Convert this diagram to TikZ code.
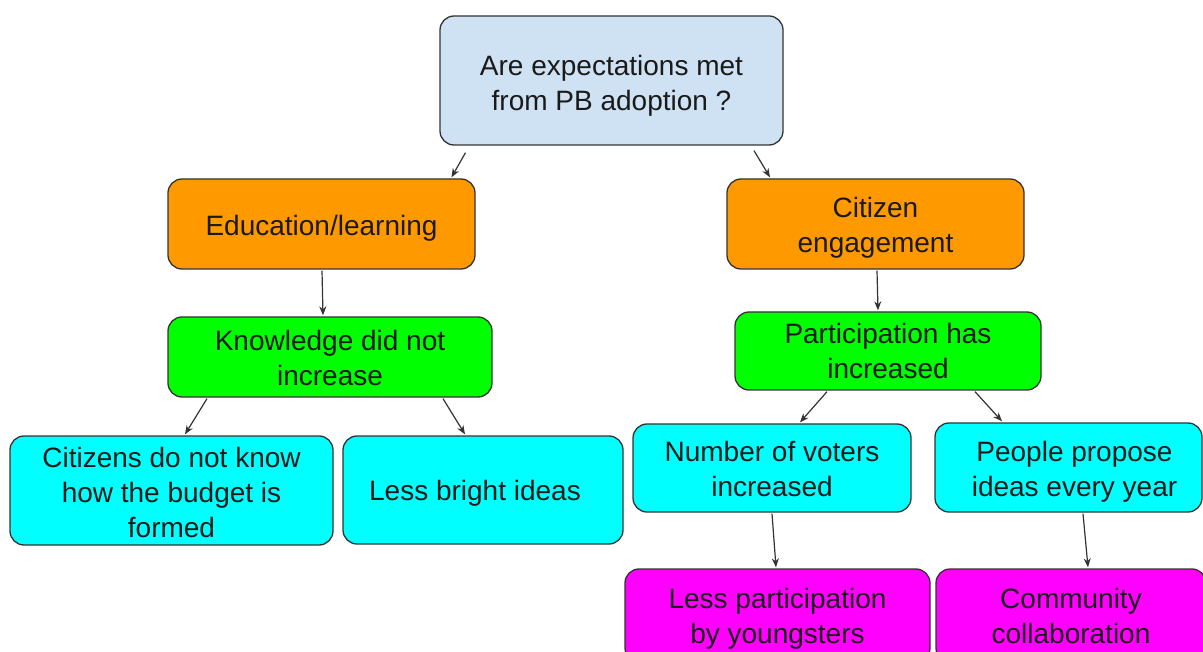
\documentclass[tikz,border=0pt]{standalone}
\usepackage{fontspec}
\setmainfont{Liberation Sans}
\usetikzlibrary{calc,arrows.meta}
\definecolor{rootblue}{HTML}{CFE2F3}
\definecolor{orng}{HTML}{FF9900}
\definecolor{grn}{HTML}{00FF00}
\definecolor{cyn}{HTML}{00FFFF}
\definecolor{mgn}{HTML}{FF00FF}
\definecolor{edge}{HTML}{333333}
\definecolor{txt}{HTML}{1A1A1A}
% text block, moved by (dx, dy) inside its box without changing the box
\newcommand\boxtext[3]{\raisebox{#2}[\height][\depth]{\hspace*{#1}\begin{tabular}{@{}c@{}}#3\end{tabular}\hspace*{-#1}}}
\tikzset{
  box/.style={draw=edge, line width=1.3pt, rounded corners=14pt, align=center,
    inner sep=0pt, text=txt, font=\fontsize{28}{35}\selectfont},
  arr/.style={draw=edge, line width=1.2pt, -{Stealth[length=9pt,width=7pt]}},
}
\begin{document}
\begin{tikzpicture}[x=1pt,y=-1pt]
\useasboundingbox (0,0) rectangle (1203,652);
\clip (0,0) rectangle (1203,652);
\fill[white] (0,0) rectangle (1203,652);

\node[box, fill=rootblue, minimum width=343pt, minimum height=129pt] (root) at (611.5,80.5) {\boxtext{0pt}{-5.5pt}{Are expectations met\\from PB adoption ?}};
\node[box, fill=orng, minimum width=307pt, minimum height=90pt] (edu) at (321.5,224) {\boxtext{0pt}{-5pt}{Education/learning}};
\node[box, fill=orng, minimum width=297pt, minimum height=90pt] (cit) at (875.5,224) {\boxtext{0pt}{-4.5pt}{Citizen\\engagement}};
\node[box, fill=grn, minimum width=324pt, minimum height=80pt] (know) at (330,357) {\boxtext{0pt}{-4pt}{Knowledge did not\\increase}};
\node[box, fill=grn, minimum width=306pt, minimum height=78pt] (part) at (888,351) {\boxtext{0pt}{-3pt}{Participation has\\increased}};
\node[box, fill=cyn, minimum width=323pt, minimum height=109pt] (cdnk) at (171.5,490.5) {\boxtext{0pt}{-5pt}{Citizens do not know\\how the budget is\\formed}};
\node[box, fill=cyn, minimum width=280pt, minimum height=108pt] (lbi) at (483,490) {\boxtext{-8pt}{-3pt}{Less bright ideas}};
\node[box, fill=cyn, minimum width=278pt, minimum height=88pt] (nov) at (772,468) {\boxtext{0pt}{-4pt}{Number of voters\\increased}};
\node[box, fill=cyn, minimum width=267pt, minimum height=89pt] (ppi) at (1068.5,467.5) {\boxtext{6pt}{-4.5pt}{People propose\\ideas every year}};
\node[box, fill=mgn, minimum width=305pt, minimum height=93pt] (lp) at (777.5,615.5) {\boxtext{0pt}{-3pt}{Less participation\\by youngsters}};
\node[box, fill=mgn, minimum width=270pt, minimum height=93pt] (comm) at (1071,615.5) {\boxtext{0pt}{-3pt}{Community\\collaboration}};

\draw[arr] ($(root.south)+(-146,7)$) -- ($(edu.north)+(130,-1)$);
\draw[arr] ($(root.south)+(142.5,5)$) -- ($(cit.north)+(-105.5,-1)$);
\draw[arr] ($(edu.south)+(0.5,1)$) -- ($(know.north)+(-7,-1)$);
\draw[arr] ($(cit.south)+(1.5,1)$) -- ($(part.north)+(-10,-1)$);
\draw[arr] ($(know.south)+(-123,1)$) -- ($(cdnk.north)+(13.5,-1)$);
\draw[arr] ($(know.south)+(113,1)$) -- ($(lbi.north)+(-18,-1)$);
\draw[arr] ($(part.south)+(-61,1)$) -- ($(nov.north)+(28,-1)$);
\draw[arr] ($(part.south)+(87,1)$) -- ($(ppi.north)+(-66.5,-1)$);
\draw[arr] ($(nov.south)+(0,1)$) -- ($(lp.north)+(-1.5,-1)$);
\draw[arr] ($(ppi.south)+(14.5,1)$) -- ($(comm.north)+(17,-1)$);
\end{tikzpicture}
\end{document}
